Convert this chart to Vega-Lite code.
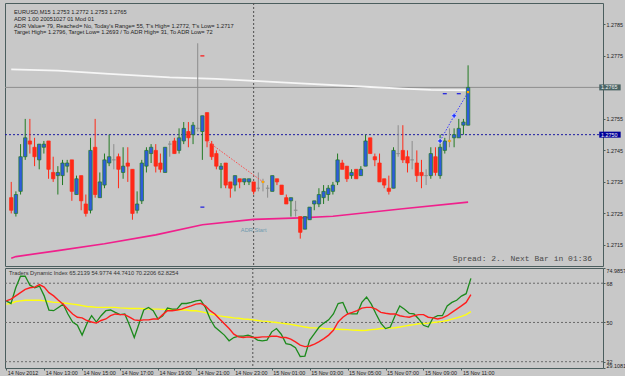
{
"$schema":"https://vega.github.io/schema/vega-lite/v6.json",
"background":"#C8C8C8",
"padding":{"left":2,"top":2,"right":0,"bottom":0},
"autosize":{"type":"pad"},
"spacing":2,
"bounds":"flush",
"config":{
 "view":{"stroke":"#4B5E5E","strokeWidth":1,"fill":"#C8C8C8"},
 "axis":{"labelFont":"Liberation Sans","labelFontSize":5.4,"labelColor":"#222222","tickColor":"#4B5E5E","tickSize":2,"domain":false,"grid":false},
 "text":{"font":"Liberation Sans"}
},
"datasets":{
 "candles":[
{"t":"2012-11-14T11:00Z","o":1.2730,"h":1.2735,"l":1.2725,"c":1.2726,"d":"down"},
{"t":"2012-11-14T11:15Z","o":1.2725,"h":1.2732,"l":1.2724,"c":1.2731,"d":"up"},
{"t":"2012-11-14T11:30Z","o":1.2732,"h":1.2747,"l":1.2731,"c":1.2743,"d":"up"},
{"t":"2012-11-14T11:45Z","o":1.2743,"h":1.2755,"l":1.2742,"c":1.2749,"d":"up"},
{"t":"2012-11-14T12:00Z","o":1.2748,"h":1.2755,"l":1.2744,"c":1.2747,"d":"down"},
{"t":"2012-11-14T12:15Z","o":1.2746,"h":1.2749,"l":1.2740,"c":1.2743,"d":"down"},
{"t":"2012-11-14T12:30Z","o":1.2742,"h":1.2747,"l":1.2739,"c":1.2747,"d":"up"},
{"t":"2012-11-14T12:45Z","o":1.2746,"h":1.2748,"l":1.2744,"c":1.2747,"d":"up"},
{"t":"2012-11-14T13:00Z","o":1.2748,"h":1.2748,"l":1.2736,"c":1.2739,"d":"down"},
{"t":"2012-11-14T13:15Z","o":1.2738,"h":1.2743,"l":1.2735,"c":1.2736,"d":"down"},
{"t":"2012-11-14T13:30Z","o":1.2737,"h":1.2740,"l":1.2731,"c":1.2738,"d":"up"},
{"t":"2012-11-14T13:45Z","o":1.2737,"h":1.2742,"l":1.2734,"c":1.2741,"d":"up"},
{"t":"2012-11-14T14:00Z","o":1.2740,"h":1.2742,"l":1.2738,"c":1.2741,"d":"up"},
{"t":"2012-11-14T14:15Z","o":1.2742,"h":1.2742,"l":1.2729,"c":1.2732,"d":"down"},
{"t":"2012-11-14T14:30Z","o":1.2731,"h":1.2737,"l":1.2731,"c":1.2736,"d":"up"},
{"t":"2012-11-14T14:45Z","o":1.2737,"h":1.2737,"l":1.2726,"c":1.2729,"d":"down"},
{"t":"2012-11-14T15:00Z","o":1.2728,"h":1.2731,"l":1.2724,"c":1.2725,"d":"down"},
{"t":"2012-11-14T15:15Z","o":1.2726,"h":1.2749,"l":1.2725,"c":1.2745,"d":"up"},
{"t":"2012-11-14T15:30Z","o":1.2746,"h":1.2755,"l":1.2730,"c":1.2731,"d":"down"},
{"t":"2012-11-14T15:45Z","o":1.2730,"h":1.2738,"l":1.2730,"c":1.2735,"d":"up"},
{"t":"2012-11-14T16:00Z","o":1.2734,"h":1.2744,"l":1.2733,"c":1.2742,"d":"up"},
{"t":"2012-11-14T16:15Z","o":1.2741,"h":1.2750,"l":1.2740,"c":1.2743,"d":"up"},
{"t":"2012-11-14T16:30Z","o":1.2742,"h":1.2747,"l":1.2739,"c":1.2742,"d":"doji"},
{"t":"2012-11-14T16:45Z","o":1.2743,"h":1.2744,"l":1.2733,"c":1.2739,"d":"down"},
{"t":"2012-11-14T17:00Z","o":1.2738,"h":1.2746,"l":1.2736,"c":1.2740,"d":"up"},
{"t":"2012-11-14T17:15Z","o":1.2741,"h":1.2746,"l":1.2735,"c":1.2740,"d":"down"},
{"t":"2012-11-14T17:30Z","o":1.2739,"h":1.2739,"l":1.2723,"c":1.2725,"d":"down"},
{"t":"2012-11-14T17:45Z","o":1.2726,"h":1.2732,"l":1.2725,"c":1.2728,"d":"up"},
{"t":"2012-11-14T18:00Z","o":1.2729,"h":1.2742,"l":1.2728,"c":1.2741,"d":"up"},
{"t":"2012-11-14T18:15Z","o":1.2740,"h":1.2746,"l":1.2738,"c":1.2745,"d":"up"},
{"t":"2012-11-14T18:30Z","o":1.2744,"h":1.2747,"l":1.2741,"c":1.2746,"d":"up"},
{"t":"2012-11-14T18:45Z","o":1.2745,"h":1.2747,"l":1.2738,"c":1.2740,"d":"down"},
{"t":"2012-11-14T19:00Z","o":1.2741,"h":1.2744,"l":1.2738,"c":1.2739,"d":"down"},
{"t":"2012-11-14T19:15Z","o":1.2738,"h":1.2746,"l":1.2738,"c":1.2746,"d":"up"},
{"t":"2012-11-14T19:30Z","o":1.2747,"h":1.2748,"l":1.2743,"c":1.2747,"d":"doji"},
{"t":"2012-11-14T19:45Z","o":1.2748,"h":1.2749,"l":1.2744,"c":1.2744,"d":"down"},
{"t":"2012-11-14T20:00Z","o":1.2745,"h":1.2752,"l":1.2744,"c":1.2749,"d":"up"},
{"t":"2012-11-14T20:15Z","o":1.2748,"h":1.2754,"l":1.2747,"c":1.2752,"d":"up"},
{"t":"2012-11-14T20:30Z","o":1.2751,"h":1.2754,"l":1.2746,"c":1.2749,"d":"down"},
{"t":"2012-11-14T20:45Z","o":1.2750,"h":1.2754,"l":1.2747,"c":1.2753,"d":"up"},
{"t":"2012-11-14T21:00Z","o":1.2752,"h":1.2779,"l":1.2751,"c":1.2752,"d":"doji"},
{"t":"2012-11-14T21:15Z","o":1.2751,"h":1.2756,"l":1.2742,"c":1.2756,"d":"up"},
{"t":"2012-11-14T21:30Z","o":1.2757,"h":1.2757,"l":1.2746,"c":1.2748,"d":"down"},
{"t":"2012-11-14T21:45Z","o":1.2747,"h":1.2748,"l":1.2742,"c":1.2743,"d":"down"},
{"t":"2012-11-14T22:00Z","o":1.2744,"h":1.2745,"l":1.2739,"c":1.2740,"d":"down"},
{"t":"2012-11-14T22:15Z","o":1.2739,"h":1.2741,"l":1.2733,"c":1.2740,"d":"up"},
{"t":"2012-11-14T22:30Z","o":1.2741,"h":1.2741,"l":1.2733,"c":1.2734,"d":"down"},
{"t":"2012-11-14T22:45Z","o":1.2735,"h":1.2735,"l":1.2730,"c":1.2733,"d":"down"},
{"t":"2012-11-14T23:00Z","o":1.2734,"h":1.2737,"l":1.2732,"c":1.2737,"d":"up"},
{"t":"2012-11-14T23:15Z","o":1.2736,"h":1.2736,"l":1.2733,"c":1.2735,"d":"down"},
{"t":"2012-11-14T23:30Z","o":1.2735,"h":1.2736,"l":1.2734,"c":1.2736,"d":"up"},
{"t":"2012-11-14T23:45Z","o":1.2735,"h":1.2736,"l":1.2734,"c":1.2736,"d":"up"},
{"t":"2012-11-15T00:00Z","o":1.2735,"h":1.2735,"l":1.2731,"c":1.2732,"d":"down"},
{"t":"2012-11-15T00:15Z","o":1.2733,"h":1.2738,"l":1.2732,"c":1.2733,"d":"doji"},
{"t":"2012-11-15T00:30Z","o":1.2735,"h":1.2736,"l":1.2732,"c":1.2735,"d":"doji"},
{"t":"2012-11-15T00:45Z","o":1.2733,"h":1.2734,"l":1.2730,"c":1.2733,"d":"doji"},
{"t":"2012-11-15T01:00Z","o":1.2732,"h":1.2737,"l":1.2732,"c":1.2737,"d":"up"},
{"t":"2012-11-15T01:15Z","o":1.2736,"h":1.2736,"l":1.2734,"c":1.2735,"d":"down"},
{"t":"2012-11-15T01:30Z","o":1.2734,"h":1.2734,"l":1.2731,"c":1.2731,"d":"down"},
{"t":"2012-11-15T01:45Z","o":1.2730,"h":1.2731,"l":1.2728,"c":1.2728,"d":"down"},
{"t":"2012-11-15T02:00Z","o":1.2729,"h":1.2730,"l":1.2724,"c":1.2730,"d":"up"},
{"t":"2012-11-15T02:15Z","o":1.2726,"h":1.2729,"l":1.2724,"c":1.2726,"d":"doji"},
{"t":"2012-11-15T02:30Z","o":1.2724,"h":1.2724,"l":1.2717,"c":1.2719,"d":"down"},
{"t":"2012-11-15T02:45Z","o":1.2720,"h":1.2724,"l":1.2720,"c":1.2724,"d":"up"},
{"t":"2012-11-15T03:00Z","o":1.2723,"h":1.2727,"l":1.2723,"c":1.2727,"d":"up"},
{"t":"2012-11-15T03:15Z","o":1.2728,"h":1.2729,"l":1.2726,"c":1.2729,"d":"up"},
{"t":"2012-11-15T03:30Z","o":1.2728,"h":1.2733,"l":1.2727,"c":1.2731,"d":"up"},
{"t":"2012-11-15T03:45Z","o":1.2730,"h":1.2734,"l":1.2728,"c":1.2732,"d":"up"},
{"t":"2012-11-15T04:00Z","o":1.2731,"h":1.2734,"l":1.2729,"c":1.2733,"d":"up"},
{"t":"2012-11-15T04:15Z","o":1.2732,"h":1.2735,"l":1.2731,"c":1.2734,"d":"up"},
{"t":"2012-11-15T04:30Z","o":1.2735,"h":1.2744,"l":1.2734,"c":1.2742,"d":"up"},
{"t":"2012-11-15T04:45Z","o":1.2741,"h":1.2742,"l":1.2739,"c":1.2739,"d":"down"},
{"t":"2012-11-15T05:00Z","o":1.2740,"h":1.2740,"l":1.2735,"c":1.2736,"d":"down"},
{"t":"2012-11-15T05:15Z","o":1.2737,"h":1.2739,"l":1.2736,"c":1.2738,"d":"up"},
{"t":"2012-11-15T05:30Z","o":1.2739,"h":1.2739,"l":1.2736,"c":1.2736,"d":"down"},
{"t":"2012-11-15T05:45Z","o":1.2737,"h":1.2740,"l":1.2737,"c":1.2739,"d":"up"},
{"t":"2012-11-15T06:00Z","o":1.2740,"h":1.2750,"l":1.2740,"c":1.2748,"d":"up"},
{"t":"2012-11-15T06:15Z","o":1.2749,"h":1.2749,"l":1.2744,"c":1.2744,"d":"down"},
{"t":"2012-11-15T06:30Z","o":1.2743,"h":1.2744,"l":1.2740,"c":1.2742,"d":"down"},
{"t":"2012-11-15T06:45Z","o":1.2741,"h":1.2744,"l":1.2735,"c":1.2735,"d":"down"},
{"t":"2012-11-15T07:00Z","o":1.2736,"h":1.2736,"l":1.2733,"c":1.2734,"d":"down"},
{"t":"2012-11-15T07:15Z","o":1.2733,"h":1.2737,"l":1.2731,"c":1.2732,"d":"down"},
{"t":"2012-11-15T07:30Z","o":1.2733,"h":1.2746,"l":1.2733,"c":1.2745,"d":"up"},
{"t":"2012-11-15T07:45Z","o":1.2744,"h":1.2753,"l":1.2743,"c":1.2744,"d":"doji"},
{"t":"2012-11-15T08:00Z","o":1.2745,"h":1.2753,"l":1.2741,"c":1.2742,"d":"down"},
{"t":"2012-11-15T08:15Z","o":1.2743,"h":1.2745,"l":1.2738,"c":1.2741,"d":"down"},
{"t":"2012-11-15T08:30Z","o":1.2742,"h":1.2748,"l":1.2739,"c":1.2742,"d":"doji"},
{"t":"2012-11-15T08:45Z","o":1.2741,"h":1.2745,"l":1.2735,"c":1.2737,"d":"down"},
{"t":"2012-11-15T09:00Z","o":1.2738,"h":1.2742,"l":1.2733,"c":1.2737,"d":"down"},
{"t":"2012-11-15T09:15Z","o":1.2737,"h":1.2739,"l":1.2734,"c":1.2737,"d":"doji"},
{"t":"2012-11-15T09:30Z","o":1.2737,"h":1.2746,"l":1.2736,"c":1.2744,"d":"up"},
{"t":"2012-11-15T09:45Z","o":1.2743,"h":1.2746,"l":1.2737,"c":1.2738,"d":"down"},
{"t":"2012-11-15T10:00Z","o":1.2737,"h":1.2750,"l":1.2736,"c":1.2746,"d":"up"},
{"t":"2012-11-15T10:15Z","o":1.2745,"h":1.2749,"l":1.2744,"c":1.2748,"d":"up"},
{"t":"2012-11-15T10:30Z","o":1.2748,"h":1.2752,"l":1.2746,"c":1.2748,"d":"doji"},
{"t":"2012-11-15T10:45Z","o":1.2749,"h":1.2752,"l":1.2746,"c":1.2750,"d":"up"},
{"t":"2012-11-15T11:00Z","o":1.2749,"h":1.2755,"l":1.2749,"c":1.2752,"d":"up"},
{"t":"2012-11-15T11:15Z","o":1.2753,"h":1.2755,"l":1.2750,"c":1.2754,"d":"up"},
{"t":"2012-11-15T11:30Z","o":1.2753,"h":1.2772,"l":1.2753,"c":1.2765,"d":"up"}
 ],
 "tdi":[
{"t":"2012-11-14T11:00Z","g":59.9,"r":59.9,"b":58.4},
{"t":"2012-11-14T11:15Z","g":58.7,"r":60.7,"b":58.7},
{"t":"2012-11-14T11:30Z","g":65.9,"r":62.2,"b":59.6},
{"t":"2012-11-14T11:45Z","g":71.2,"r":63.7,"b":59.9},
{"t":"2012-11-14T12:00Z","g":71.2,"r":65.2,"b":60.2},
{"t":"2012-11-14T12:15Z","g":67.1,"r":65.9,"b":60.2},
{"t":"2012-11-14T12:30Z","g":65.9,"r":66.2,"b":60.2},
{"t":"2012-11-14T12:45Z","g":66.7,"r":67.4,"b":60.2},
{"t":"2012-11-14T13:00Z","g":62.2,"r":66.2,"b":59.9},
{"t":"2012-11-14T13:15Z","g":55.7,"r":63.7,"b":59.6},
{"t":"2012-11-14T13:30Z","g":55.4,"r":62.2,"b":59.2},
{"t":"2012-11-14T13:45Z","g":56.9,"r":60.2,"b":59.2},
{"t":"2012-11-14T14:00Z","g":58.4,"r":58.4,"b":59.0},
{"t":"2012-11-14T14:15Z","g":53.9,"r":56.1,"b":58.7},
{"t":"2012-11-14T14:30Z","g":50.2,"r":53.9,"b":58.4},
{"t":"2012-11-14T14:45Z","g":48.7,"r":52.4,"b":58.1},
{"t":"2012-11-14T15:00Z","g":44.2,"r":52.1,"b":57.7},
{"t":"2012-11-14T15:15Z","g":49.4,"r":50.9,"b":57.3},
{"t":"2012-11-14T15:30Z","g":53.1,"r":50.2,"b":57.2},
{"t":"2012-11-14T15:45Z","g":50.2,"r":49.7,"b":56.9},
{"t":"2012-11-14T16:00Z","g":53.1,"r":50.9,"b":56.9},
{"t":"2012-11-14T16:15Z","g":55.4,"r":51.6,"b":56.9},
{"t":"2012-11-14T16:30Z","g":55.7,"r":53.1,"b":56.9},
{"t":"2012-11-14T16:45Z","g":54.6,"r":53.9,"b":56.9},
{"t":"2012-11-14T17:00Z","g":53.6,"r":53.6,"b":56.7},
{"t":"2012-11-14T17:15Z","g":53.9,"r":53.6,"b":56.6},
{"t":"2012-11-14T17:30Z","g":48.7,"r":52.4,"b":56.4},
{"t":"2012-11-14T17:45Z","g":43.1,"r":51.2,"b":56.4},
{"t":"2012-11-14T18:00Z","g":49.4,"r":50.9,"b":56.4},
{"t":"2012-11-14T18:15Z","g":55.7,"r":51.2,"b":56.3},
{"t":"2012-11-14T18:30Z","g":56.9,"r":51.2,"b":56.1},
{"t":"2012-11-14T18:45Z","g":55.4,"r":51.6,"b":56.1},
{"t":"2012-11-14T19:00Z","g":51.6,"r":51.6,"b":56.1},
{"t":"2012-11-14T19:15Z","g":53.1,"r":53.6,"b":56.0},
{"t":"2012-11-14T19:30Z","g":56.6,"r":55.4,"b":56.0},
{"t":"2012-11-14T19:45Z","g":56.1,"r":55.4,"b":55.8},
{"t":"2012-11-14T20:00Z","g":56.1,"r":55.7,"b":55.7},
{"t":"2012-11-14T20:15Z","g":58.7,"r":56.1,"b":55.7},
{"t":"2012-11-14T20:30Z","g":58.7,"r":56.9,"b":55.7},
{"t":"2012-11-14T20:45Z","g":59.2,"r":57.6,"b":55.4},
{"t":"2012-11-14T21:00Z","g":59.9,"r":58.4,"b":55.4},
{"t":"2012-11-14T21:15Z","g":60.2,"r":58.7,"b":55.0},
{"t":"2012-11-14T21:30Z","g":56.9,"r":57.6,"b":54.5},
{"t":"2012-11-14T21:45Z","g":51.6,"r":55.4,"b":53.9},
{"t":"2012-11-14T22:00Z","g":47.9,"r":53.9,"b":53.5},
{"t":"2012-11-14T22:15Z","g":46.1,"r":51.6,"b":53.0},
{"t":"2012-11-14T22:30Z","g":44.2,"r":49.4,"b":52.7},
{"t":"2012-11-14T22:45Z","g":41.6,"r":47.2,"b":52.4},
{"t":"2012-11-14T23:00Z","g":43.1,"r":44.6,"b":52.1},
{"t":"2012-11-14T23:15Z","g":43.7,"r":43.4,"b":51.9},
{"t":"2012-11-14T23:30Z","g":43.7,"r":43.1,"b":51.6},
{"t":"2012-11-14T23:45Z","g":44.2,"r":43.4,"b":51.5},
{"t":"2012-11-15T00:00Z","g":43.4,"r":43.1,"b":51.2},
{"t":"2012-11-15T00:15Z","g":41.9,"r":43.1,"b":50.9},
{"t":"2012-11-15T00:30Z","g":41.6,"r":43.4,"b":50.6},
{"t":"2012-11-15T00:45Z","g":41.9,"r":43.4,"b":50.5},
{"t":"2012-11-15T01:00Z","g":45.7,"r":43.7,"b":50.2},
{"t":"2012-11-15T01:15Z","g":47.2,"r":43.7,"b":50.0},
{"t":"2012-11-15T01:30Z","g":44.6,"r":43.1,"b":49.7},
{"t":"2012-11-15T01:45Z","g":40.3,"r":43.1,"b":49.4},
{"t":"2012-11-15T02:00Z","g":39.8,"r":42.4,"b":49.1},
{"t":"2012-11-15T02:15Z","g":38.4,"r":41.1,"b":48.7},
{"t":"2012-11-15T02:30Z","g":34.4,"r":39.6,"b":48.3},
{"t":"2012-11-15T02:45Z","g":34.6,"r":38.9,"b":47.9},
{"t":"2012-11-15T03:00Z","g":41.9,"r":39.2,"b":47.6},
{"t":"2012-11-15T03:15Z","g":44.9,"r":40.1,"b":47.5},
{"t":"2012-11-15T03:30Z","g":47.9,"r":41.2,"b":47.4},
{"t":"2012-11-15T03:45Z","g":49.7,"r":42.6,"b":47.2},
{"t":"2012-11-15T04:00Z","g":51.2,"r":44.2,"b":47.1},
{"t":"2012-11-15T04:15Z","g":53.9,"r":46.4,"b":47.0},
{"t":"2012-11-15T04:30Z","g":58.7,"r":50.2,"b":46.9},
{"t":"2012-11-15T04:45Z","g":59.2,"r":52.4,"b":46.8},
{"t":"2012-11-15T05:00Z","g":54.2,"r":53.9,"b":46.7},
{"t":"2012-11-15T05:15Z","g":53.9,"r":54.6,"b":46.5},
{"t":"2012-11-15T05:30Z","g":53.9,"r":55.4,"b":46.4},
{"t":"2012-11-15T05:45Z","g":59.2,"r":56.6,"b":46.3},
{"t":"2012-11-15T06:00Z","g":61.7,"r":56.9,"b":46.4},
{"t":"2012-11-15T06:15Z","g":58.4,"r":56.9,"b":46.7},
{"t":"2012-11-15T06:30Z","g":53.9,"r":56.1,"b":46.9},
{"t":"2012-11-15T06:45Z","g":49.7,"r":54.6,"b":47.2},
{"t":"2012-11-15T07:00Z","g":47.2,"r":54.2,"b":47.3},
{"t":"2012-11-15T07:15Z","g":47.9,"r":53.9,"b":47.4},
{"t":"2012-11-15T07:30Z","g":53.1,"r":53.9,"b":47.6},
{"t":"2012-11-15T07:45Z","g":57.6,"r":53.1,"b":47.9},
{"t":"2012-11-15T08:00Z","g":56.1,"r":52.7,"b":48.3},
{"t":"2012-11-15T08:15Z","g":54.2,"r":52.4,"b":48.7},
{"t":"2012-11-15T08:30Z","g":53.9,"r":53.1,"b":49.0},
{"t":"2012-11-15T08:45Z","g":51.6,"r":53.6,"b":49.4},
{"t":"2012-11-15T09:00Z","g":48.7,"r":53.6,"b":49.5},
{"t":"2012-11-15T09:15Z","g":47.9,"r":52.4,"b":49.7},
{"t":"2012-11-15T09:30Z","g":52.1,"r":52.1,"b":50.0},
{"t":"2012-11-15T09:45Z","g":53.1,"r":51.6,"b":50.2},
{"t":"2012-11-15T10:00Z","g":53.1,"r":52.1,"b":50.5},
{"t":"2012-11-15T10:15Z","g":57.6,"r":53.1,"b":50.9},
{"t":"2012-11-15T10:30Z","g":59.2,"r":54.6,"b":51.5},
{"t":"2012-11-15T10:45Z","g":60.2,"r":56.1,"b":52.1},
{"t":"2012-11-15T11:00Z","g":62.1,"r":57.6,"b":52.8},
{"t":"2012-11-15T11:15Z","g":63.2,"r":59.2,"b":53.6},
{"t":"2012-11-15T11:30Z","g":70.2,"r":62.8,"b":55.0}
 ],
 "maw":[
{"t":"2012-11-14T11:00Z","p":1.27707},{"t":"2012-11-14T13:30Z","p":1.27703},{"t":"2012-11-14T16:15Z","p":1.27693},
{"t":"2012-11-14T19:30Z","p":1.27682},{"t":"2012-11-14T22:00Z","p":1.27677},{"t":"2012-11-15T00:00Z","p":1.27671},
{"t":"2012-11-15T02:30Z","p":1.27663},{"t":"2012-11-15T06:00Z","p":1.27652},{"t":"2012-11-15T08:00Z","p":1.27646},
{"t":"2012-11-15T09:30Z","p":1.27642},{"t":"2012-11-15T11:30Z","p":1.27641}
 ],
 "mam":[
{"t":"2012-11-14T11:00Z","p":1.27108},{"t":"2012-11-14T11:15Z","p":1.27113},{"t":"2012-11-14T13:30Z","p":1.27132},
{"t":"2012-11-14T16:00Z","p":1.27154},{"t":"2012-11-14T18:45Z","p":1.27182},{"t":"2012-11-14T21:15Z","p":1.27214},
{"t":"2012-11-15T00:00Z","p":1.27231},{"t":"2012-11-15T02:30Z","p":1.27236},{"t":"2012-11-15T04:15Z","p":1.27241},
{"t":"2012-11-15T08:00Z","p":1.27265},{"t":"2012-11-15T11:30Z","p":1.27286}
 ],
 "levels":[{"p":1.2765,"n":"bid"},{"p":1.2750,"n":"level"}],
 "sep":[{"t":"2012-11-15T00:00Z"}],
 "projr":[{"t":"2012-11-14T21:30Z","p":1.2748},{"t":"2012-11-15T00:30Z","p":1.2735}],
 "projb":[{"t":"2012-11-15T10:00Z","p":1.2748},{"t":"2012-11-15T10:45Z","p":1.2756},{"t":"2012-11-15T11:30Z","p":1.27635}],
 "cross":[{"t":"2012-11-15T10:00Z","p":1.2748},{"t":"2012-11-15T10:45Z","p":1.2756}],
 "omark":[{"t":"2012-11-15T00:30Z","p":1.2735},{"t":"2012-11-15T10:30Z","p":1.2748},{"t":"2012-11-15T11:30Z","p":1.27635}],
 "dash":[{"t":"2012-11-14T21:15Z","p":1.2775,"k":"r"},{"t":"2012-11-14T21:15Z","p":1.2727,"k":"b"},{"t":"2012-11-15T10:15Z","p":1.2763,"k":"b"},{"t":"2012-11-15T11:00Z","p":1.2763,"k":"b"}],
 "info":[
{"t":"2012-11-14T11:09Z","p":1.27888,"s":"EURUSD,M15  1.2753 1.2772 1.2753 1.2765"},
{"t":"2012-11-14T11:09Z","p":1.27867,"s":"ADR 1.00 20051027 01 Mod 01"},
{"t":"2012-11-14T11:09Z","p":1.27846,"s":"ADR Value= 79, Reached= No, Today's Range= 55, T's High= 1.2772, T's Low= 1.2717"},
{"t":"2012-11-14T11:09Z","p":1.27826,"s":"Target High= 1.2796, Target Low= 1.2693 / To ADR High= 31, To ADR Low= 72"}
 ],
 "adr":[{"t":"2012-11-15T00:00Z","p":1.27196,"s":"ADR Start"}],
 "spread":[{"t":"2012-11-15T18:09Z","p":1.27106,"s":"Spread: 2.. Next Bar in 01:36"}],
 "tdilev":[{"v":68},{"v":50},{"v":32}],
 "tdihead":[{"t":"2012-11-14T11:09Z","v":72.6,"s":"Traders Dynamic Index 65.2139 54.9774 44.7410 70.2206 62.8254"}]
},
"vconcat":[
{
 "width":598,"height":263,
 "resolve":{"axis":{"y":"independent"}},
 "layer":[
  {"data":{"name":"levels"},"transform":[{"filter":"datum.n=='bid'"}],
   "mark":{"type":"rule","color":"#8E8E8E","strokeWidth":1},
   "encoding":{"y":{"field":"p","type":"quantitative","scale":{"domain":[1.27099,1.27902],"zero":false,"nice":false},
     "axis":{"orient":"right","values":[1.2715,1.2725,1.2735,1.2745,1.2755,1.2775,1.2785],"format":".4f","labelAlign":"left","labelPadding":1,"labelFlush":false,"labelOverlap":false,"tickSize":2,"title":null}}}},
  {"data":{"name":"levels"},"transform":[{"filter":"datum.n=='level'"}],
   "mark":{"type":"rule","color":"#1A1AA0","strokeWidth":1,"strokeDash":[2,2]},
   "encoding":{"y":{"field":"p","type":"quantitative","axis":null}}},
  {"data":{"name":"sep"},"mark":{"type":"rule","color":"#505050","strokeWidth":1,"strokeDash":[2,2]},
   "encoding":{"x":{"field":"t","type":"temporal","scale":{"type":"utc","domain":[{"year":2012,"month":11,"date":14,"hours":10,"minutes":56,"utc":true},{"year":2012,"month":11,"date":15,"hours":18,"minutes":28,"utc":true}]},"axis":null}}},
  {"data":{"name":"maw"},"mark":{"type":"line","color":"#F6F6F6","strokeWidth":1.8},
   "encoding":{"x":{"field":"t","type":"temporal","axis":null},"y":{"field":"p","type":"quantitative","axis":null}}},
  {"data":{"name":"mam"},"mark":{"type":"line","color":"#F0208C","strokeWidth":1.6},
   "encoding":{"x":{"field":"t","type":"temporal","axis":null},"y":{"field":"p","type":"quantitative","axis":null}}},
  {"data":{"name":"candles"},"mark":{"type":"rule","strokeWidth":1},
   "encoding":{"x":{"field":"t","type":"temporal","axis":null},"y":{"field":"l","type":"quantitative","axis":null},"y2":{"field":"h"},
    "stroke":{"field":"d","type":"nominal","scale":{"domain":["up","down","doji"],"range":["#237A23","#FF2A18","#8C8C8C"]},"legend":null}}},
  {"data":{"name":"candles"},"mark":{"type":"bar","width":3.4,"strokeWidth":0.7},
   "encoding":{"x":{"field":"t","type":"temporal","axis":null},"y":{"field":"o","type":"quantitative","axis":null},"y2":{"field":"c"},
    "fill":{"field":"d","type":"nominal","scale":{"domain":["up","down","doji"],"range":["#2D5CDC","#FF2A18","#8C8C8C"]},"legend":null},
    "stroke":{"field":"d","type":"nominal","legend":null}}},
  {"data":{"name":"projr"},"mark":{"type":"line","color":"#FF4A4A","strokeWidth":1,"strokeDash":[1.5,1.5]},
   "encoding":{"x":{"field":"t","type":"temporal","axis":null},"y":{"field":"p","type":"quantitative","axis":null}}},
  {"data":{"name":"projb"},"mark":{"type":"line","color":"#3A3AFF","strokeWidth":1,"strokeDash":[1.5,1.5]},
   "encoding":{"x":{"field":"t","type":"temporal","axis":null},"y":{"field":"p","type":"quantitative","axis":null}}},
  {"data":{"name":"cross"},"mark":{"type":"point","shape":"cross","filled":true,"size":24,"fill":"#1E32FF","stroke":"#FFFFFF","strokeWidth":0.5,"opacity":1},
   "encoding":{"x":{"field":"t","type":"temporal","axis":null},"y":{"field":"p","type":"quantitative","axis":null}}},
  {"data":{"name":"omark"},"mark":{"type":"point","shape":"square","filled":true,"size":5,"color":"#FFA500","opacity":1},
   "encoding":{"x":{"field":"t","type":"temporal","axis":null},"y":{"field":"p","type":"quantitative","axis":null}}},
  {"data":{"name":"dash"},"transform":[{"filter":"datum.k=='r'"}],"mark":{"type":"tick","orient":"horizontal","size":4,"thickness":1.2,"color":"#FF1010","opacity":1},
   "encoding":{"x":{"field":"t","type":"temporal","axis":null},"y":{"field":"p","type":"quantitative","axis":null}}},
  {"data":{"name":"dash"},"transform":[{"filter":"datum.k=='b'"}],"mark":{"type":"tick","orient":"horizontal","size":4,"thickness":1.2,"color":"#1A1AE0","opacity":1},
   "encoding":{"x":{"field":"t","type":"temporal","axis":null},"y":{"field":"p","type":"quantitative","axis":null}}},
  {"data":{"name":"info"},"mark":{"type":"text","align":"left","baseline":"middle","fontSize":5.7,"color":"#1E1E1E"},
   "encoding":{"x":{"field":"t","type":"temporal","axis":null},"y":{"field":"p","type":"quantitative","axis":null},"text":{"field":"s"}}},
  {"data":{"name":"adr"},"mark":{"type":"text","align":"center","baseline":"middle","fontSize":5.7,"color":"#6E9AAE"},
   "encoding":{"x":{"field":"t","type":"temporal","axis":null},"y":{"field":"p","type":"quantitative","axis":null},"text":{"field":"s"}}},
  {"data":{"name":"spread"},"mark":{"type":"text","align":"right","baseline":"middle","fontSize":8,"font":"Liberation Mono","color":"#4A4A4A"},
   "encoding":{"x":{"field":"t","type":"temporal","axis":null},"y":{"field":"p","type":"quantitative","axis":null},"text":{"field":"s"}}},
  {"data":{"name":"levels"},"mark":{"type":"bar","size":6},
   "encoding":{"x":{"datum":{"year":2012,"month":11,"date":15,"hours":18,"minutes":32,"utc":true},"type":"temporal","axis":null},
    "x2":{"datum":{"year":2012,"month":11,"date":15,"hours":19,"minutes":41,"utc":true}},
    "y":{"field":"p","type":"quantitative","axis":null},
    "color":{"field":"n","type":"nominal","scale":{"domain":["bid","level"],"range":["#4A6464","#00009A"]},"legend":null}}},
  {"data":{"name":"levels"},"mark":{"type":"text","align":"left","baseline":"middle","fontSize":5.4,"fill":"#F2F2F2"},
   "encoding":{"x":{"datum":{"year":2012,"month":11,"date":15,"hours":18,"minutes":38,"utc":true},"type":"temporal","axis":null},
    "y":{"field":"p","type":"quantitative","axis":null},"text":{"field":"p","type":"quantitative","format":".4f"}}}
 ]
},
{
 "width":598,"height":100,
 "resolve":{"axis":{"x":"independent","y":"independent"}},
 "layer":[
  {"data":{"name":"tdilev"},"mark":{"type":"rule","color":"#6A6A6A","strokeWidth":1,"strokeDash":[2,2]},
   "encoding":{"y":{"field":"v","type":"quantitative","scale":{"domain":[29.1081,74.9857],"zero":false,"nice":false},
     "axis":{"orient":"right","values":[29.1081,32,50,68,74.9857],"labelExpr":"datum.value + ''","labelAlign":"left","labelPadding":1,"labelFlush":true,"labelOverlap":false,"tickSize":2,"title":null}}}},
  {"data":{"name":"sep"},"mark":{"type":"rule","color":"#505050","strokeWidth":1,"strokeDash":[2,2]},
   "encoding":{"x":{"field":"t","type":"temporal","scale":{"type":"utc","domain":[{"year":2012,"month":11,"date":14,"hours":10,"minutes":56,"utc":true},{"year":2012,"month":11,"date":15,"hours":18,"minutes":28,"utc":true}]},
     "axis":{"orient":"bottom","values":[
       {"year":2012,"month":11,"date":14,"hours":11,"utc":true},{"year":2012,"month":11,"date":14,"hours":13,"utc":true},
       {"year":2012,"month":11,"date":14,"hours":15,"utc":true},{"year":2012,"month":11,"date":14,"hours":17,"utc":true},
       {"year":2012,"month":11,"date":14,"hours":19,"utc":true},{"year":2012,"month":11,"date":14,"hours":21,"utc":true},
       {"year":2012,"month":11,"date":14,"hours":23,"utc":true},{"year":2012,"month":11,"date":15,"hours":1,"utc":true},
       {"year":2012,"month":11,"date":15,"hours":3,"utc":true},{"year":2012,"month":11,"date":15,"hours":5,"utc":true},
       {"year":2012,"month":11,"date":15,"hours":7,"utc":true},{"year":2012,"month":11,"date":15,"hours":9,"utc":true},
       {"year":2012,"month":11,"date":15,"hours":11,"utc":true}],
      "labelExpr":"datum.value < 1352891000000 ? '14 Nov 2012' : utcFormat(datum.value, '%d %b %H:%M')",
      "labelAlign":"left","labelBaseline":"top","labelPadding":0,"labelOffset":1,"labelFlush":false,"labelOverlap":false,"tickSize":2,"title":null}}}},
  {"data":{"name":"tdi"},"mark":{"type":"line","color":"#FFFF10","strokeWidth":1.4},
   "encoding":{"x":{"field":"t","type":"temporal","axis":null},"y":{"field":"b","type":"quantitative","axis":null}}},
  {"data":{"name":"tdi"},"mark":{"type":"line","color":"#1C8A1C","strokeWidth":1.3},
   "encoding":{"x":{"field":"t","type":"temporal","axis":null},"y":{"field":"g","type":"quantitative","axis":null}}},
  {"data":{"name":"tdi"},"mark":{"type":"line","color":"#FF1E1E","strokeWidth":1.4},
   "encoding":{"x":{"field":"t","type":"temporal","axis":null},"y":{"field":"r","type":"quantitative","axis":null}}},
  {"data":{"name":"tdihead"},"mark":{"type":"text","align":"left","baseline":"middle","fontSize":5.7,"color":"#333333"},
   "encoding":{"x":{"field":"t","type":"temporal","axis":null},"y":{"field":"v","type":"quantitative","axis":null},"text":{"field":"s"}}}
 ]
}
]
}
